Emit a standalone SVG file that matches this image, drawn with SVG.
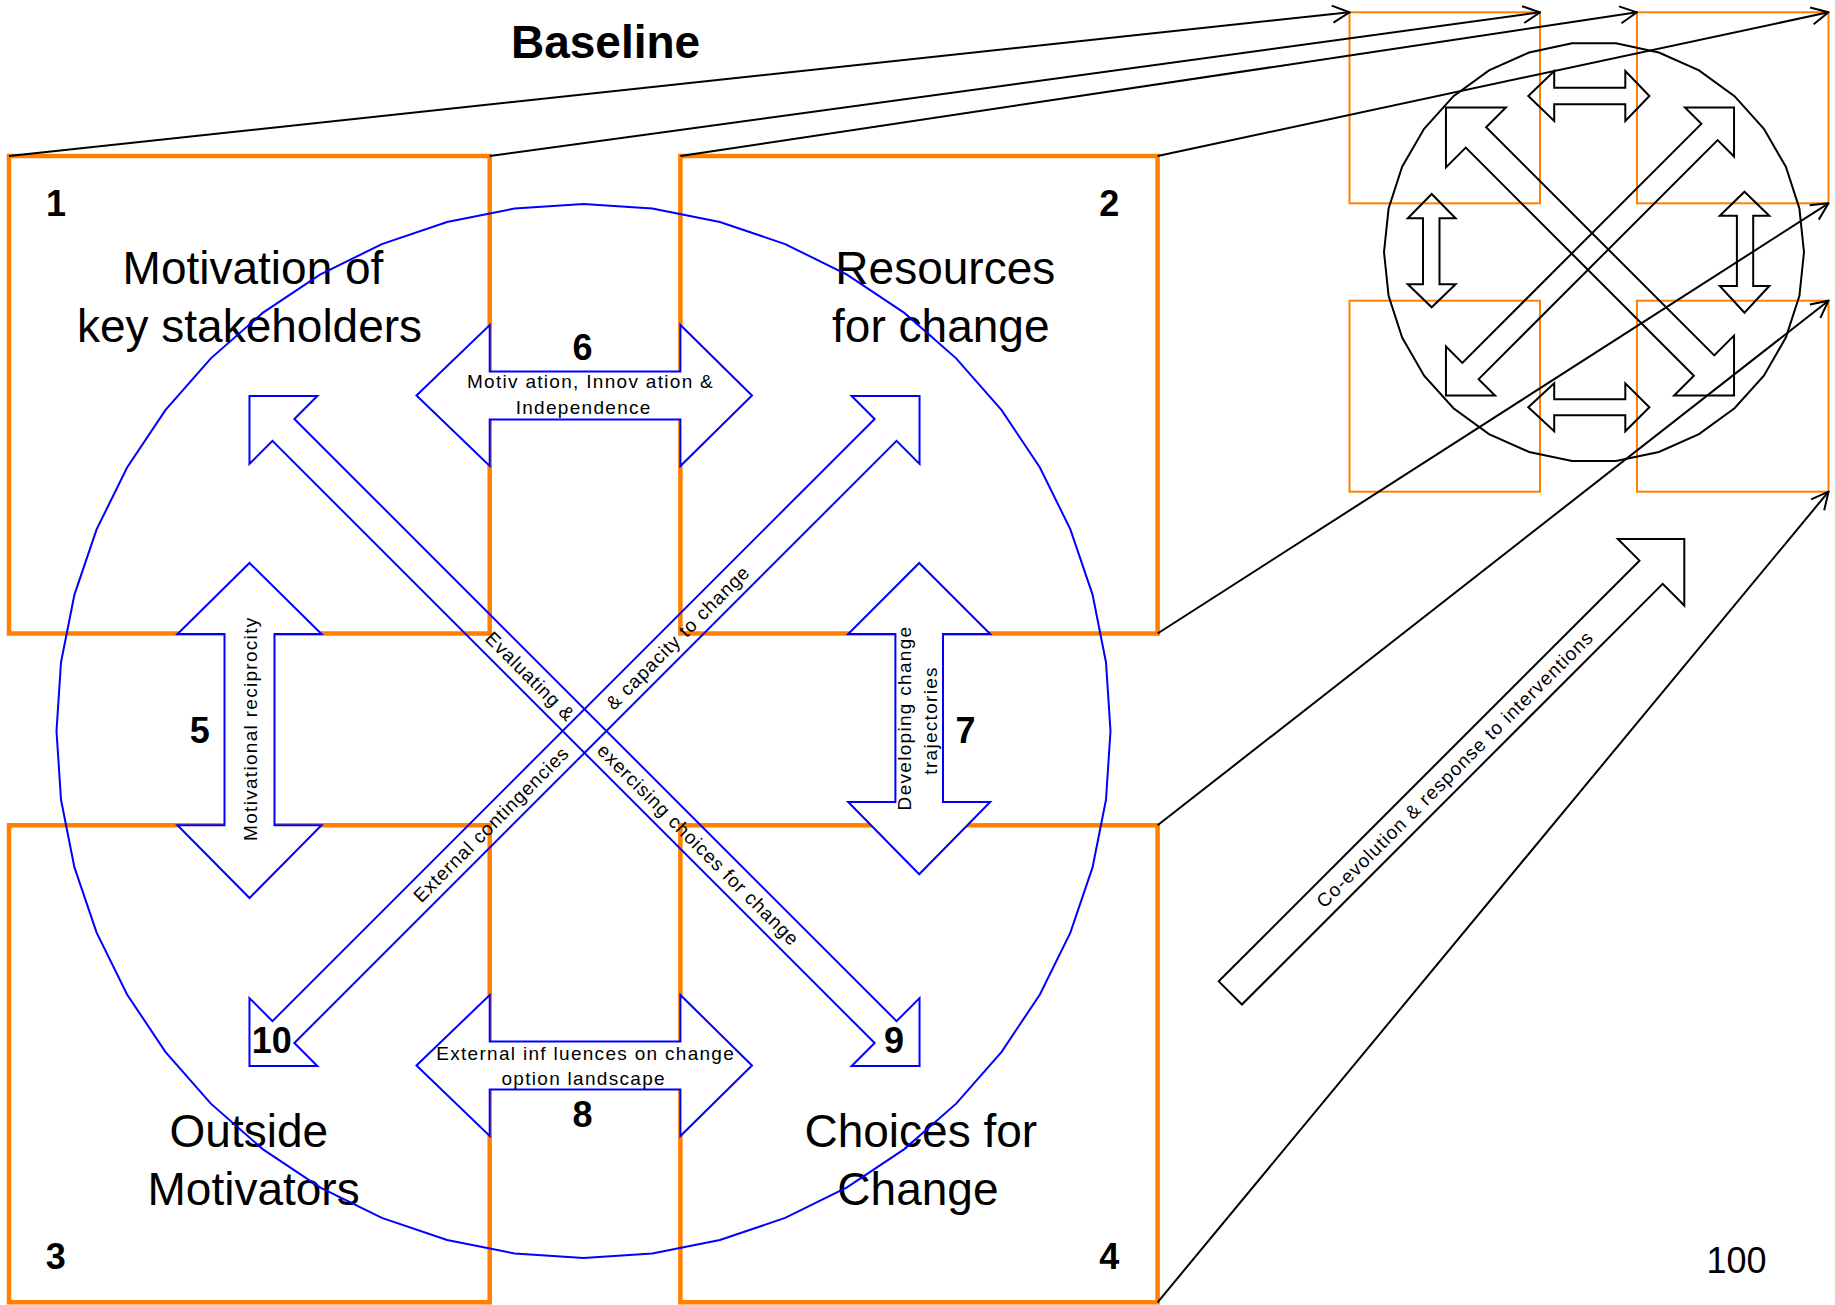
<svg xmlns="http://www.w3.org/2000/svg" width="1835" height="1305" viewBox="0 0 1835 1305">
  <style>
    .box { fill: none; stroke: #ff8000; stroke-width: 4.5; }
    .sbox { fill: none; stroke: #ff8000; stroke-width: 2; }
    .ring { fill: none; stroke: #0000ff; stroke-width: 2; }
    .barrow { fill: none; stroke: #0000ff; stroke-width: 2; stroke-linejoin: miter; }
    .warrow { fill: #ffffff; stroke: #0000ff; stroke-width: 2; stroke-linejoin: miter; }
    .karrow { fill: none; stroke: #000000; stroke-width: 2; stroke-linejoin: miter; }
    .kring { fill: none; stroke: #000000; stroke-width: 2; }
    .proj { fill: none; stroke: #000000; stroke-width: 2; marker-end: url(#open); }
    text { font-family: "Liberation Sans", Arial, sans-serif; fill: #000000; }
    .big { font-size: 46px; text-anchor: middle; }
    .num { font-size: 36px; font-weight: bold; text-anchor: middle; }
    .title { font-size: 46px; font-weight: bold; text-anchor: middle; }
    .lab { font-size: 19px; letter-spacing: 1.3px; text-anchor: middle; }
    .dg { font-size: 19px; letter-spacing: 0.9px; text-anchor: middle; }
    .co { font-size: 19px; letter-spacing: 1px; text-anchor: middle; }
  </style>
  <defs>
    <marker id="open" viewBox="0 0 20 20" markerWidth="20" markerHeight="20" markerUnits="userSpaceOnUse" refX="19" refY="10" orient="auto">
      <path d="M2,1.5 L19,10 L2,18.5" fill="none" stroke="#000000" stroke-width="2"/>
    </marker>
    <!-- diagonal double arrow of the main model (local frame, centred) -->
    <polygon id="bigDiag" points="-473.8,0 -425.8,-48 -425.8,-15.5 425.8,-15.5 425.8,-48 473.8,0 425.8,48 425.8,15.5 -425.8,15.5 -425.8,48"/>
  </defs>

  <rect width="1835" height="1305" fill="#ffffff"/>

  <text class="title" x="605.6" y="58.3">Baseline</text>

  <!-- four domains of the main model -->
  <g id="box1">
    <rect class="box" x="9" y="156" width="480.7" height="477.5"/>
    <text class="num" x="56" y="216">1</text>
    <text class="big" x="253" y="284">Motivation of</text>
    <text class="big" x="249.5" y="342">key stakeholders</text>
  </g>
  <g id="box2">
    <rect class="box" x="680.4" y="156" width="477.2" height="477.5"/>
    <text class="num" x="1109.2" y="216">2</text>
    <text class="big" x="945.3" y="284">Resources</text>
    <text class="big" x="940.8" y="342">for change</text>
  </g>
  <g id="box3">
    <rect class="box" x="9" y="825.3" width="480.7" height="477"/>
    <text class="num" x="55.8" y="1269.3">3</text>
    <text class="big" x="248.8" y="1146.7">Outside</text>
    <text class="big" x="253.6" y="1205">Motivators</text>
  </g>
  <g id="box4">
    <rect class="box" x="680.4" y="825.3" width="477.2" height="477"/>
    <text class="num" x="1109.2" y="1269.3">4</text>
    <text class="big" x="920.8" y="1146.7">Choices for</text>
    <text class="big" x="917.9" y="1205">Change</text>
  </g>

  <!-- enclosing system boundary (48-sided) -->
  <g id="boundary">
    <polygon class="ring" transform="translate(583.5,731)" points="527,0 522.49,68.79 509.05,136.4 486.88,201.67 456.4,263.5 418.1,320.82 372.65,372.65 320.82,418.1 263.5,456.4 201.67,486.88 136.4,509.05 68.79,522.49 0,527 -68.79,522.49 -136.4,509.05 -201.67,486.88 -263.5,456.4 -320.82,418.1 -372.65,372.65 -418.1,320.82 -456.4,263.5 -486.88,201.67 -509.05,136.4 -522.49,68.79 -527,0 -522.49,-68.79 -509.05,-136.4 -486.88,-201.67 -456.4,-263.5 -418.1,-320.82 -372.65,-372.65 -320.82,-418.1 -263.5,-456.4 -201.67,-486.88 -136.4,-509.05 -68.79,-522.49 0,-527 68.79,-522.49 136.4,-509.05 201.67,-486.88 263.5,-456.4 320.82,-418.1 372.65,-372.65 418.1,-320.82 456.4,-263.5 486.88,-201.67 509.05,-136.4 522.49,-68.79"/>
  </g>

  <!-- relationships between the domains -->
  <g id="links">
    <g id="link9" transform="translate(584.5,731) rotate(45)">
      <use href="#bigDiag" class="barrow"/>
      <text class="dg" x="-77" y="6.5">Evaluating &amp;</text>
      <text class="dg" x="161" y="6.5">exercising choices for change</text>
    </g>
    <g id="link10" transform="translate(584.5,731) rotate(-45)">
      <use href="#bigDiag" class="barrow"/>
      <text class="dg" x="-132" y="6.5">External contingencies</text>
      <text class="dg" x="132" y="6.5">&amp; capacity to change</text>
    </g>
    <g id="link5">
      <polygon class="warrow" points="249.5,563 321.5,634 274.5,634 274.5,825.3 321.5,825.3 249.5,898 177.5,825.3 224.5,825.3 224.5,634 177.5,634"/>
      <text class="lab" transform="translate(256.7,728.7) rotate(-90)">Motivational reciprocity</text>
      <text class="num" x="199.7" y="743.3">5</text>
    </g>
    <g id="link6">
      <polygon class="warrow" points="416.5,395.5 489.7,325 489.7,371.5 680.4,371.5 680.4,325 752,395.5 680.4,466 680.4,419.5 489.7,419.5 489.7,466"/>
      <text class="num" x="582.6" y="360">6</text>
      <text class="lab" x="590.5" y="388.3">Motiv ation, Innov ation &amp;</text>
      <text class="lab" x="583.7" y="414.3">Independence</text>
    </g>
    <g id="link7">
      <polygon class="warrow" points="919.2,563 990.2,634 943,634 943,802 990.2,802 919.2,874.3 848.2,802 895.4,802 895.4,634 848.2,634"/>
      <text class="lab" transform="translate(910.5,718) rotate(-90)">Developing change</text>
      <text class="lab" transform="translate(937,720.4) rotate(-90)">trajectories</text>
      <text class="num" x="965.4" y="743.3">7</text>
    </g>
    <g id="link8">
      <polygon class="warrow" points="416.5,1065.5 489.7,995 489.7,1041.5 680.4,1041.5 680.4,995 752,1065.5 680.4,1136 680.4,1089.5 489.7,1089.5 489.7,1136"/>
      <text class="lab" x="585.7" y="1060">External inf luences on change</text>
      <text class="lab" x="583.7" y="1085">option landscape</text>
      <text class="num" x="582.6" y="1126.7">8</text>
    </g>
    <text class="num" x="894" y="1052.7">9</text>
    <text class="num" x="271.8" y="1052.7">10</text>
  </g>

  <!-- reduced copy of the model after change -->
  <g id="later">
    <rect class="sbox" x="1349.5" y="12.3" width="190.5" height="191"/>
    <rect class="sbox" x="1637" y="12.3" width="191.5" height="191"/>
    <rect class="sbox" x="1349.5" y="300.7" width="190.5" height="191"/>
    <rect class="sbox" x="1637" y="300.7" width="191.5" height="191"/>
    <polygon class="kring" transform="translate(1594,252.2)" points="210,0 205.41,43.66 191.85,85.42 169.89,123.44 140.52,156.06 105,181.87 64.89,199.72 21.95,208.85 -21.95,208.85 -64.89,199.72 -105,181.87 -140.52,156.06 -169.89,123.44 -191.85,85.42 -205.41,43.66 -210,0 -205.41,-43.66 -191.85,-85.42 -169.89,-123.44 -140.52,-156.06 -105,-181.87 -64.89,-199.72 -21.95,-208.85 21.95,-208.85 64.89,-199.72 105,-181.87 140.52,-156.06 169.89,-123.44 191.85,-85.42 205.41,-43.66"/>
    <polygon class="karrow" points="1528.3,96 1554.2,71 1554.2,87.7 1625.3,87.7 1625.3,71 1649.4,96 1625.3,121 1625.3,104.3 1554.2,104.3 1554.2,121"/>
    <polygon class="karrow" points="1528.3,407.3 1554.2,383.3 1554.2,399.3 1625.3,399.3 1625.3,383.3 1649.4,407.3 1625.3,431.3 1625.3,415.3 1554.2,415.3 1554.2,431.3"/>
    <polygon class="karrow" points="1431.7,194 1455.6,218.3 1439.5,218.3 1439.5,284.3 1455.6,284.3 1431.7,307.3 1407.8,284.3 1423,284.3 1423,218.3 1407.8,218.3"/>
    <polygon class="karrow" points="1744.5,191.7 1769.3,215.7 1753.2,215.7 1753.2,286 1769.3,286 1744.5,312.7 1719.8,286 1736.9,286 1736.9,215.7 1719.8,215.7"/>
    <polygon class="karrow" transform="translate(1590,251.5) rotate(45)" points="-203.7,0 -161.3,-42.4 -161.3,-14.4 161.3,-14.4 161.3,-42.4 203.7,0 161.3,42.4 161.3,14.4 -161.3,14.4 -161.3,42.4"/>
    <polygon class="karrow" transform="translate(1590,251.5) rotate(-45)" points="-203.7,0 -169,-34.7 -169,-11.5 169,-11.5 169,-34.7 203.7,0 169,34.7 169,11.5 -169,11.5 -169,34.7"/>
  </g>

  <!-- projection lines from the baseline to the later state -->
  <g id="connectors">
    <line class="proj" x1="9" y1="156" x2="1349.5" y2="12.3"/>
    <line class="proj" x1="489.7" y1="156" x2="1540" y2="12.3"/>
    <line class="proj" x1="680.4" y1="156" x2="1637" y2="12.3"/>
    <line class="proj" x1="1157.6" y1="156" x2="1828.5" y2="12.3"/>
    <line class="proj" x1="1157.6" y1="633.5" x2="1828.5" y2="203.3"/>
    <line class="proj" x1="1157.6" y1="825.3" x2="1828.5" y2="300.7"/>
    <line class="proj" x1="1157.6" y1="1302.3" x2="1828.5" y2="491.7"/>
  </g>

  <g id="coevolution" transform="translate(1684.3,539) rotate(-45)">
    <polygon class="karrow" points="0,0 -47,-47 -47,-16.4 -642,-16.4 -642,16.4 -47,16.4 -47,47"/>
    <text class="co" x="-325" y="7">Co-evolution &amp; response to interventions</text>
  </g>

  <text x="1736.5" y="1273" font-size="36" text-anchor="middle">100</text>
</svg>
